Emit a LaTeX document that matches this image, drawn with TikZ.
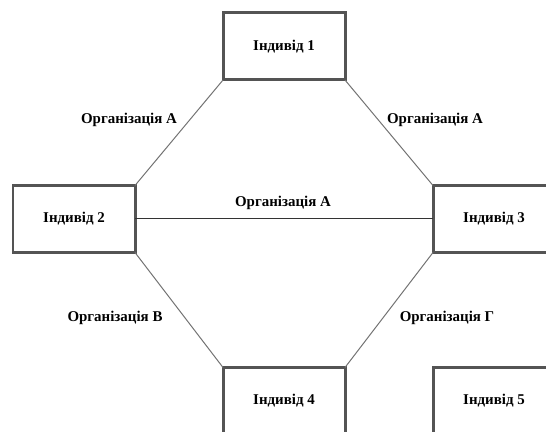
\documentclass[tikz,border=0pt]{standalone}
\usepackage{fontspec}
\setmainfont{Liberation Serif}
\usepackage{tikz}
\usepackage{tkz-graph}

\begin{document}
\begin{tikzpicture}
			\definecolor{cv1}{rgb}{0.33,0.33,0.33}
			\definecolor{cfv1}{rgb}{1.0,1.0,1.0}
			\definecolor{clv1}{rgb}{0.0,0.0,0.0}
			\definecolor{cv1v2}{rgb}{0.45,0.45,0.45}
			\definecolor{cv1v3}{rgb}{0.45,0.45,0.45}
			\definecolor{cv2v3}{rgb}{0.2,0.2,0.2}
			\definecolor{cv2v4}{rgb}{0.45,0.45,0.45}
			\definecolor{cv3v4}{rgb}{0.45,0.45,0.45}
			\tikzset{box/.style={minimum width=2.44cm,minimum height=1.34cm,draw=cv1,fill=cfv1,text=clv1,shape=rectangle,line width=0.06cm,outer sep=0pt,inner sep=0pt,font=\bfseries\fontsize{8.5}{10}\selectfont},
				org/.style={font=\bfseries\fontsize{8.5}{10}\selectfont,text=clv1}}
			%
			\useasboundingbox (0,0) rectangle (10.92,8.64);
			\clip (0,0) rectangle (10.92,8.64);
			%
			\node[box] (v1) at (5.68,7.71) {Індивід 1};
			\node[box] (v2) at (1.48,4.26) {Індивід 2};
			\node[box] (v3) at (9.88,4.26) {Індивід 3};
			\node[box] (v4) at (5.68,0.62) {Індивід 4};
			\node[box] (v5) at (9.88,0.62) {Індивід 5};
			%
			\Edge[lw=0.02cm,style={color=cv1v2,},](v1.south west)(v2.north east)
			\Edge[lw=0.02cm,style={color=cv1v3,},](v1.south east)(v3.north west)
			\Edge[lw=0.02cm,style={color=cv2v3,},](v2.east)(v3.west)
			\Edge[lw=0.02cm,style={color=cv2v4,},](v2.south east)(v4.north west)
			\Edge[lw=0.02cm,style={color=cv3v4,},](v3.south west)(v4.north east)
			%
			\node[org] (o12) at (2.58,6.24) {Організація А};
			\node[org] (o13) at (8.70,6.24) {Організація А};
			\node[org] (o23) at (5.66,4.58) {Організація А};
			\node[org] (o24) at (2.30,2.28) {Організація В};
			\node[org] (o34) at (8.94,2.28) {Організація Г};
			%
		\end{tikzpicture}
\end{document}
